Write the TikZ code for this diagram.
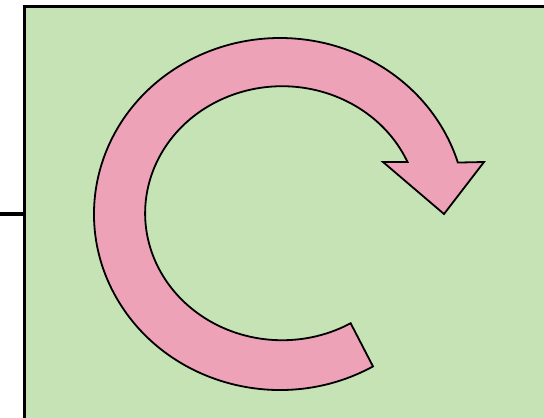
\documentclass[tikz,border=0pt]{standalone}
\usetikzlibrary{calc}
\definecolor{panelgreen}{HTML}{C6E3B5}
\definecolor{arrowpink}{HTML}{EDA2B7}
\tikzset{
  panelbox/.style={draw=black, line width=3pt, fill=panelgreen, inner sep=0pt, outer sep=0pt, anchor=north west},
  feedline/.style={draw=black, line width=4pt},
  ringarrow/.style={draw=black, line width=1.8pt, fill=arrowpink, line join=miter}
}
\begin{document}
\begin{tikzpicture}[x=1pt,y=-1pt]
  \useasboundingbox (0,0) rectangle (544,418);
  \clip (0,0) rectangle (544,418);
  \node[panelbox, minimum width=540pt, minimum height=415pt] (panel) at (24,6.5) {};
  \coordinate (lineStart) at (0,214);
  \draw[feedline] (lineStart) -- (lineStart -| panel.west);
  % circular arrow, centre (280,214)
  \coordinate (ctr) at (280,214);
  \coordinate (outerTail) at ($(ctr)+({186*cos(60)},{176*sin(60)})$);
  \path[ringarrow]
    (outerTail)
    arc[start angle=60, end angle=343, x radius=186, y radius=176]
    -- (484,162) -- (444,214) -- (383,162) -- (407.5,162)
    arc[start angle=336.2, end angle=60, x radius=137, y radius=127]
    -- cycle;
\end{tikzpicture}
\end{document}
